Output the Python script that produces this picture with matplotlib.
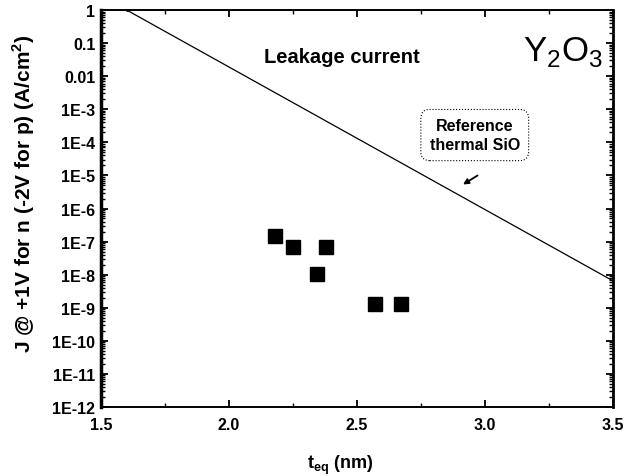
import matplotlib
matplotlib.use("Agg")
import matplotlib.pyplot as plt
from matplotlib.ticker import FixedLocator, LogLocator, NullFormatter

plt.rcParams['font.family'] = ['Liberation Sans', 'DejaVu Sans']

# Reference thermal SiO2 leakage line (t_eq in nm, J in A/cm^2)
sio2_teq = [1.60, 3.50]
sio2_j = [1.0, 6.5e-9]

# Y2O3 measured points
y2o3_teq = [2.18, 2.25, 2.38, 2.345, 2.57, 2.67]
y2o3_j = [1.45e-7, 6.7e-8, 6.7e-8, 1.05e-8, 1.3e-9, 1.3e-9]

x_ticks = [1.5, 2.0, 2.5, 3.0, 3.5]
x_tick_labels = ["1.5", "2.0", "2.5", "3.0", "3.5"]
y_ticks = [1, 1e-1, 1e-2, 1e-3, 1e-4, 1e-5, 1e-6, 1e-7, 1e-8, 1e-9, 1e-10, 1e-11, 1e-12]
y_tick_labels = ["1", "0.1", "0.01", "1E-3", "1E-4", "1E-5", "1E-6", "1E-7",
                 "1E-8", "1E-9", "1E-10", "1E-11", "1E-12"]

fig = plt.figure(figsize=(6.3, 4.77), dpi=100)
ax = fig.add_axes([101/630, 1 - 408/477, 512/630, 397/477])

ax.plot(sio2_teq, sio2_j, color='black', lw=0.9, marker='.', markersize=2)
ax.plot(y2o3_teq, y2o3_j, linestyle='none', marker='s', markersize=10,
        color='black')

ax.set_yscale('log')
ax.set_xlim(1.5, 3.5)
ax.set_ylim(1e-12, 1)

ax.xaxis.set_major_locator(FixedLocator(x_ticks))
ax.set_xticklabels(x_tick_labels)
ax.xaxis.set_minor_locator(FixedLocator([1.75, 2.25, 2.75, 3.25]))
ax.yaxis.set_major_locator(FixedLocator(y_ticks))
ax.set_yticklabels(y_tick_labels)
ax.yaxis.set_minor_locator(LogLocator(base=10, subs=range(2, 10), numticks=100))
ax.yaxis.set_minor_formatter(NullFormatter())

ax.tick_params(axis='both', which='major', direction='in', length=5, width=1.3,
               top=True, right=True, pad=4)
ax.tick_params(axis='y', which='major', labelsize=11.5)
ax.tick_params(axis='x', which='major', labelsize=11.5, pad=7)
ax.tick_params(axis='both', which='minor', direction='in', length=3, width=1.0,
               top=True, right=True)
for lbl in ax.get_xticklabels() + ax.get_yticklabels():
    lbl.set_fontweight('bold')
for s in ax.spines.values():
    s.set_linewidth(1.4)
ax.spines['left'].set_linewidth(2.5)
ax.spines['right'].set_linewidth(2.0)

ax.set_xlabel(r"t$_{\mathregular{eq}}$ (nm)", fontsize=13, fontweight='bold')
ax.xaxis.set_label_coords(0.467, -0.115)
ax.set_ylabel(r"J @ +1V for n (-2V for p) (A/cm$^{\mathregular{2}}$)", fontsize=15,
              fontweight='bold')
ax.yaxis.set_label_coords(-0.125, 0.54)

ax.text(0.318, 0.884, "Leakage current", transform=ax.transAxes, fontsize=14.5,
        fontweight='bold', ha='left', va='center')
ax.text(0.98, 0.897, r"Y$_{\mathregular{2}}$O$_{\mathregular{3}}$", transform=ax.transAxes,
        fontsize=25, ha='right', va='center')
ax.text(0.730, 0.685, "Reference\nthermal SiO", transform=ax.transAxes, fontsize=11.5,
        fontweight='bold', ha='center', va='center', linespacing=1.3,
        bbox=dict(boxstyle='round,pad=0.55', fc='white', ec='black', lw=0.8,
                  linestyle=':'))
ax.annotate("", xy=(2.905, 4.8e-6), xytext=(2.98, 1.1e-5),
            arrowprops=dict(arrowstyle='-|>', color='black', lw=1.3,
                            mutation_scale=8))

fig.savefig("out.png", dpi=100)
